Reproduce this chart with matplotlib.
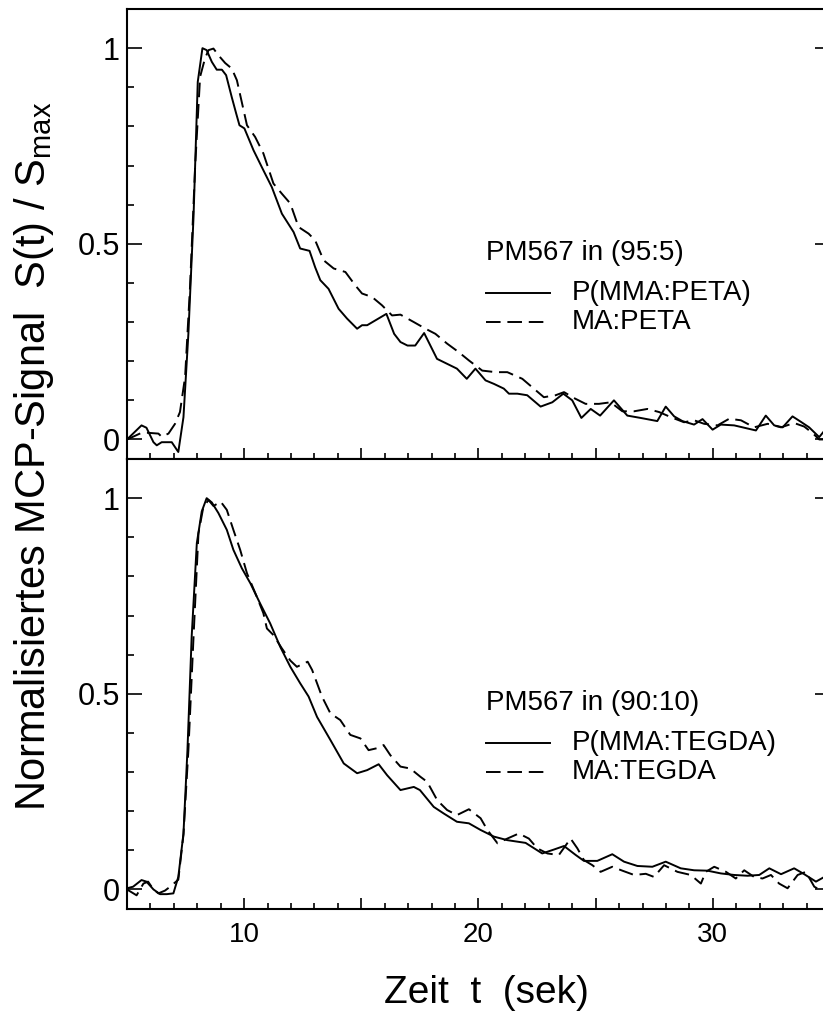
import matplotlib
matplotlib.use("Agg")
import matplotlib.pyplot as plt
from matplotlib.ticker import MultipleLocator, FixedLocator, FuncFormatter

plt.rcParams['font.family'] = 'Liberation Sans'
plt.rcParams['mathtext.fontset'] = 'custom'
plt.rcParams['mathtext.rm'] = 'Liberation Sans'

# PM567 in (95:5)
t_peta = [5.0, 5.62, 5.83, 6.13, 6.27, 6.48, 6.91, 7.19, 7.41, 7.62,
          7.84, 8.02, 8.22, 8.4, 8.62, 8.83, 9.05, 9.23, 9.47, 9.66,
          9.8, 10.01, 10.4, 10.82, 11.18, 11.61, 12.11, 12.39, 12.79, 13.03,
          13.25, 13.6, 14.03, 14.39, 14.82, 15.03, 15.25, 16.07, 16.4, 16.67,
          16.97, 17.3, 17.68, 18.23, 19.08, 19.5, 19.87, 20.3, 20.66, 21.08,
          21.3, 21.66, 22.08, 22.65, 23.15, 23.62, 24.0, 24.39, 24.79, 25.19,
          25.78, 26.35, 26.92, 27.63, 27.99, 28.35, 28.7, 29.2, 29.56, 29.99,
          30.34, 30.91, 31.34, 31.84, 32.26, 32.62, 32.98, 33.4, 33.76, 34.11,
          34.54, 35.0]
s_peta = [0.0, 0.036, 0.03, -0.007, -0.015, -0.007, -0.007, -0.032, 0.057, 0.27,
          0.57, 0.914, 1.0, 0.995, 0.965, 0.945, 0.945, 0.931, 0.875, 0.833,
          0.803, 0.795, 0.739, 0.688, 0.645, 0.577, 0.53, 0.488, 0.482, 0.44,
          0.407, 0.385, 0.334, 0.309, 0.283, 0.292, 0.292, 0.321, 0.27, 0.249,
          0.24, 0.24, 0.272, 0.206, 0.181, 0.155, 0.181, 0.151, 0.142, 0.13,
          0.117, 0.117, 0.113, 0.084, 0.095, 0.117, 0.1, 0.055, 0.078, 0.061,
          0.1, 0.061, 0.055, 0.047, 0.084, 0.059, 0.047, 0.038, 0.052, 0.025,
          0.038, 0.036, 0.03, 0.023, 0.061, 0.036, 0.031, 0.059, 0.045, 0.031,
          0.006, 0.04]

t_ma_peta = [5.0, 5.26, 5.62, 5.9, 6.34, 6.48, 6.77, 7.05, 7.26, 7.48,
             7.69, 7.91, 8.12, 8.33, 8.48, 8.69, 8.9, 9.19, 9.47, 9.69,
             10.12, 10.47, 10.82, 11.25, 11.61, 11.97, 12.32, 12.75, 13.03, 13.39,
             13.82, 14.32, 14.74, 15.03, 15.46, 15.88, 16.31, 16.67, 17.24, 17.74,
             18.16, 18.66, 19.16, 19.59, 20.16, 20.73, 21.23, 21.87, 22.36, 22.79,
             23.29, 23.65, 24.07, 24.57, 25.14, 25.64, 26.14, 26.64, 27.21, 27.71,
             28.21, 28.77, 29.2, 29.63, 30.2, 30.7, 31.2, 31.76, 32.34, 32.91,
             33.47, 33.9, 34.26, 34.54, 35.0]
s_ma_peta = [0.0, 0.007, 0.017, 0.017, 0.015, 0.007, 0.015, 0.04, 0.07, 0.16,
             0.39, 0.70, 0.927, 0.974, 0.995, 0.999, 0.982, 0.962, 0.948, 0.918,
             0.803, 0.773, 0.731, 0.654, 0.628, 0.603, 0.543, 0.526, 0.509, 0.458,
             0.437, 0.428, 0.394, 0.373, 0.364, 0.343, 0.317, 0.319, 0.30, 0.283,
             0.27, 0.245, 0.223, 0.202, 0.176, 0.172, 0.172, 0.155, 0.13, 0.108,
             0.113, 0.121, 0.106, 0.091, 0.091, 0.095, 0.072, 0.072, 0.078, 0.07,
             0.057, 0.044, 0.049, 0.04, 0.036, 0.053, 0.049, 0.031, 0.04, 0.031,
             0.042, 0.033, 0.016, 0.0, 0.0]

# PM567 in (90:10)
t_tegda = [5.0, 5.26, 5.62, 5.83, 6.13, 6.41, 6.7, 6.98, 7.19, 7.41,
           7.58, 7.76, 7.98, 8.19, 8.4, 8.62, 8.9, 9.26, 9.54, 9.9,
           10.26, 10.68, 11.11, 11.54, 11.97, 12.39, 12.75, 13.11, 13.68, 14.25,
           14.82, 15.25, 15.74, 16.1, 16.67, 17.24, 17.5, 18.09, 18.52, 19.08,
           19.59, 20.09, 20.66, 21.23, 22.01, 22.72, 23.22, 23.65, 24.15, 24.5,
           25.07, 25.71, 26.21, 26.78, 27.42, 27.99, 28.63, 29.2, 29.77, 30.34,
           30.91, 31.48, 31.98, 32.41, 32.91, 33.47, 33.9, 34.4, 35.0]
s_tegda = [0.003, 0.007, 0.024, 0.02, 0.0, -0.012, -0.012, -0.01, 0.032, 0.143,
           0.356, 0.646, 0.885, 0.966, 1.0, 0.989, 0.962, 0.919, 0.868, 0.821,
           0.783, 0.731, 0.68, 0.62, 0.569, 0.527, 0.493, 0.441, 0.382, 0.322,
           0.297, 0.305, 0.32, 0.292, 0.254, 0.262, 0.254, 0.211, 0.194, 0.173,
           0.169, 0.152, 0.135, 0.126, 0.119, 0.092, 0.102, 0.111, 0.088, 0.073,
           0.073, 0.09, 0.071, 0.06, 0.058, 0.071, 0.054, 0.049, 0.048, 0.041,
           0.037, 0.035, 0.037, 0.054, 0.039, 0.054, 0.039, 0.02, 0.04]

t_ma_tegda = [5.0, 5.41, 5.7, 5.9, 6.13, 6.34, 6.62, 6.84, 7.19, 7.41,
              7.62, 7.84, 8.05, 8.26, 8.48, 8.69, 9.0, 9.26, 9.54, 9.83,
              10.12, 10.54, 10.82, 10.97, 11.25, 11.61, 11.97, 12.25, 12.71, 12.9,
              13.32, 13.68, 14.1, 14.53, 14.96, 15.31, 15.67, 15.95, 16.24, 16.67,
              17.09, 17.52, 17.81, 18.24, 18.66, 19.08, 19.59, 20.09, 20.38, 20.81,
              21.23, 21.72, 22.15, 22.51, 22.94, 23.43, 23.93, 24.22, 24.5, 24.86,
              25.21, 25.71, 26.14, 26.64, 27.14, 27.49, 27.92, 28.49, 29.06, 29.49,
              29.7, 30.06, 30.56, 30.98, 31.34, 31.76, 32.12, 32.48, 32.83, 33.19,
              33.62, 33.97, 34.33, 34.54, 35.0]
s_ma_tegda = [0.0, -0.015, 0.015, 0.02, 0.0, -0.01, -0.003, 0.007, 0.025, 0.14,
              0.356, 0.646, 0.91, 0.978, 0.995, 0.98, 0.991, 0.97, 0.919, 0.868,
              0.808, 0.748, 0.706, 0.667, 0.65, 0.616, 0.585, 0.569, 0.582, 0.561,
              0.493, 0.45, 0.433, 0.395, 0.386, 0.356, 0.361, 0.369, 0.343, 0.314,
              0.309, 0.288, 0.275, 0.228, 0.203, 0.19, 0.205, 0.182, 0.152, 0.118,
              0.13, 0.143, 0.13, 0.105, 0.092, 0.088, 0.13, 0.105, 0.075, 0.062,
              0.045, 0.058, 0.048, 0.037, 0.04, 0.032, 0.062, 0.045, 0.037, 0.015,
              0.045, 0.058, 0.045, 0.028, 0.049, 0.032, 0.028, 0.037, 0.015, 0.003,
              0.037, 0.045, 0.007, 0.0, 0.0]

titles = ['PM567 in (95:5)', 'PM567 in (90:10)']
names_solid = ['P(MMA:PETA)', 'P(MMA:TEGDA)']
names_dashed = ['MA:PETA', 'MA:TEGDA']

LW = 1.4
DASH = (7.5, 3.5)

fig = plt.figure(figsize=(8.23, 10.16), dpi=100)
ax1 = fig.add_axes([0.1543, 0.5482, 0.8542, 0.4429])
ax2 = fig.add_axes([0.1543, 0.1053, 0.8542, 0.4429])

panels = [(ax1, t_peta, s_peta, t_ma_peta, s_ma_peta),
          (ax2, t_tegda, s_tegda, t_ma_tegda, s_ma_tegda)]

for i, (ax, t1, s1, t2, s2) in enumerate(panels):
    ax.plot(t1, s1, color='black', lw=LW)
    ax.plot(t2, s2, color='black', lw=LW, dashes=DASH)
    ax.set_xlim(5, 35)
    ax.set_ylim(-0.05, 1.1)

    for sp in ax.spines.values():
        sp.set_linewidth(1.5)

    ax.xaxis.set_major_locator(MultipleLocator(5))
    ax.xaxis.set_minor_locator(MultipleLocator(1))
    ax.yaxis.set_major_locator(FixedLocator([0, 0.5, 1]))
    ax.yaxis.set_minor_locator(MultipleLocator(0.1))
    ax.xaxis.set_major_formatter(FuncFormatter(
        lambda v, p: '%d' % v if round(v) in (10, 20, 30) else ''))
    ax.yaxis.set_major_formatter(FuncFormatter(
        lambda v, p: {0: '0', 0.5: '0.5', 1: '1'}.get(round(v, 1), '')))

    ax.tick_params(axis='y', which='major', direction='in', length=11,
                   width=1.2, left=True, right=True, labelsize=22, pad=5)
    ax.tick_params(axis='y', which='minor', direction='in', length=5,
                   width=1.2, left=True, right=False)
    ax.tick_params(axis='x', which='major', direction='in', length=8,
                   width=1.2, top=False, labelsize=20, pad=9)
    ax.tick_params(axis='x', which='minor', direction='in', length=4.5,
                   width=1.2, top=False)

    # legend block
    ax.text(0.511, 0.458, titles[i], transform=ax.transAxes,
            fontsize=20, va='center', ha='left')
    ax.plot([0.511, 0.602], [0.369, 0.369], transform=ax.transAxes,
            color='black', lw=LW)
    ax.plot([0.511, 0.602], [0.304, 0.304], transform=ax.transAxes,
            color='black', lw=LW, dashes=DASH)
    ax.text(0.633, 0.369, names_solid[i], transform=ax.transAxes,
            fontsize=20, va='center', ha='left')
    ax.text(0.633, 0.304, names_dashed[i], transform=ax.transAxes,
            fontsize=20, va='center', ha='left')

ax1.tick_params(axis='x', labelbottom=False)

fig.text(34 / 823, 0.551, r'Normalisiertes MCP-Signal  S(t) / S$_{\rm max}$',
         rotation=90, ha='center', va='center', fontsize=30)
fig.text(486 / 823, 1 - 993 / 1016, 'Zeit  t  (sek)',
         ha='center', va='center', fontsize=28)

fig.savefig('out.png', dpi=100)
